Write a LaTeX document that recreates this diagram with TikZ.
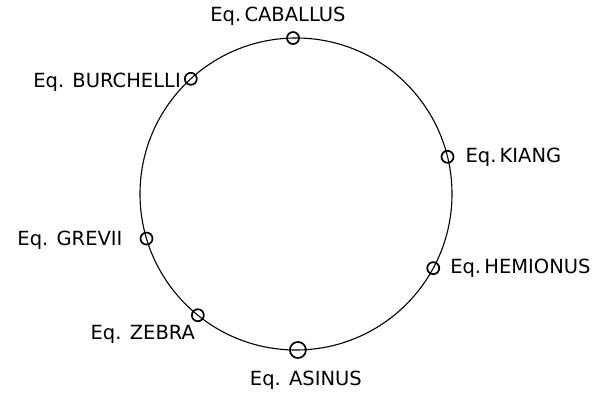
\documentclass[tikz,border=0pt]{standalone}
\usepackage{fontspec}
\setmainfont{DejaVu Sans}
\usetikzlibrary{positioning}

\begin{document}
\begin{tikzpicture}[
        x=1pt, y=1pt,
        ring/.style={line width=1.1pt},
        species/.style={circle, draw, line width=1.7pt, inner sep=0pt, minimum size=12pt},
        big species/.style={species, minimum width=16pt, minimum height=15pt},
        species label/.style={inner sep=0pt, font=\fontsize{19.5}{23}\selectfont}
    ]
        \useasboundingbox (0,0) rectangle (596,394);
        % The ring of species
        \coordinate (centre) at (296,200);
        \draw[ring] (centre) circle (156);
        % Markers on the ring
        \node[species] (cab) at ([shift={(91.1:156)}]centre) {};
        \node[species] (bur) at ([shift={(132.4:156)}]centre) {};
        \node[species] (kia) at ([shift={(13.8:156)}]centre) {};
        \node[species] (hem) at ([shift={(-28.4:156)}]centre) {};
        \node[species] (gre) at ([shift={(196.6:156)}]centre) {};
        \node[species] (zeb) at ([shift={(231:156)}]centre) {};
        \node[big species] (asi) at ([shift={(270.7:156)}]centre) {};
        % Names
        \node[species label, above=5pt of cab, xshift=-15pt] (cab label) {Eq.\,CABALLUS};
        \node[species label, left=3pt of bur, yshift=-3pt] (bur label) {Eq. BURCHELLI};
        \node[species label, right=11pt of kia] (kia label) {Eq.\,KIANG};
        \node[species label, right=10pt of hem] (hem label) {Eq.\,HEMIONUS};
        \node[species label, left=17pt of gre, yshift=-2pt] (gre label) {Eq. GREVII};
        \node[species label, below=3pt of zeb, xshift=-55pt] (zeb label) {Eq. ZEBRA};
        \node[species label, below=12pt of asi, xshift=8pt] (asi label) {Eq. ASINUS};
\end{tikzpicture}
\end{document}
